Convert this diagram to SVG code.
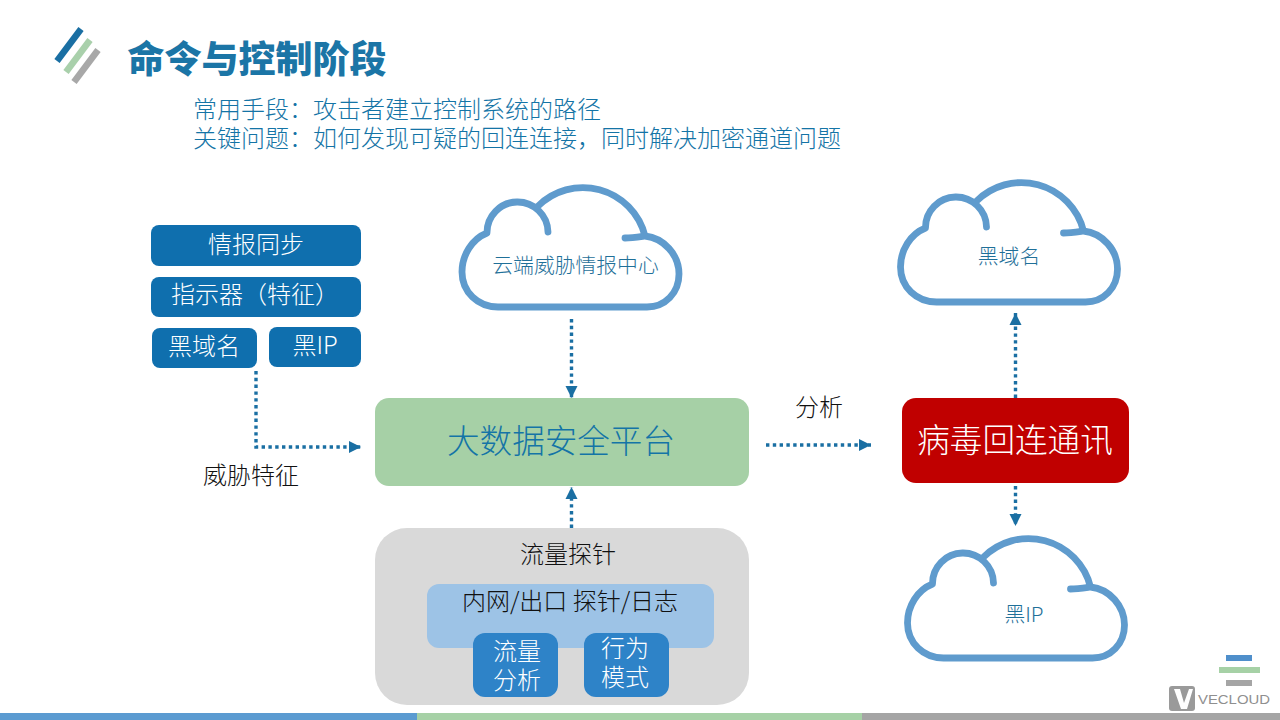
<svg xmlns="http://www.w3.org/2000/svg" width="1280" height="720" viewBox="0 0 1280 720">
<style>
text{font-family:"Noto Sans CJK SC","Liberation Sans",sans-serif;text-anchor:middle;font-weight:300}
.cloud{fill:none;stroke:#5f9bcd;stroke-width:6.8;stroke-linecap:round;stroke-linejoin:round}
.flow{fill:none;stroke:#1a6fa3;stroke-width:3.4;stroke-dasharray:3.4 3.4;marker-end:url(#arrow)}
.blue{fill:#0f6fae}
.wt{fill:#fff;font-size:24px}
.dk{fill:#111;font-size:24px}
.cl{fill:#1f7099;font-size:20.8px}
.sub{fill:#1474a6;font-size:24px;text-anchor:start}
</style>
<defs>
<marker id="arrow" markerUnits="userSpaceOnUse" markerWidth="14" markerHeight="14" refX="12" refY="7" orient="auto"><path d="M0 1L12 7L0 13Z" fill="#1a6fa3"/></marker>
<path id="cloudshape" d="M548 232A30.5 30.5 0 0 0 487 233C472 239 462 255 462 272C462 292 478 307 498 307H647C665 307 679 293 679 274C679 255 664 238 645 236A64 64 0 0 0 537 207M645 236C638 237 632 238 625 238"/>
</defs>
<rect width="1280" height="720" fill="#fff"/>
<g id="header-mark">
<path d="M57 61L81 29" stroke="#1a6fa3" stroke-width="6.5"/>
<path d="M66 72L90 40" stroke="#a9d0ab" stroke-width="6.5"/>
<path d="M74 82L98 50" stroke="#a8a8a8" stroke-width="6.5"/>
</g>
<text x="257" y="73" font-size="37" style="font-weight:900" fill="#1b75a6">命令与控制阶段</text>
<text class="sub" x="193" y="118">常用手段：攻击者建立控制系统的路径</text>
<text class="sub" x="193" y="147">关键问题：如何发现可疑的回连连接，同时解决加密通道问题</text>

<g id="connectors">
<path class="flow" d="M256 371V447H361"/>
<path class="flow" d="M571.5 319V398"/>
<path class="flow" d="M571.5 528V487"/>
<path class="flow" d="M766 445H871"/>
<path class="flow" d="M1015.5 398V313"/>
<path class="flow" d="M1015.5 486V526"/>
</g>

<g id="intel-sync"><rect class="blue" x="151" y="225" width="210" height="41" rx="8"/><text class="wt" x="256" y="253">情报同步</text></g>
<g id="indicator"><rect class="blue" x="151" y="277" width="210" height="40" rx="8"/><text class="wt" x="255" y="303">指示器（特征）</text></g>
<g id="black-domain"><rect class="blue" x="152" y="328" width="105" height="40" rx="8"/><text class="wt" x="204" y="355">黑域名</text></g>
<g id="black-ip"><rect class="blue" x="269" y="327" width="92" height="40" rx="8"/><text class="wt" x="315" y="354">黑IP</text></g>

<g id="cloud-center"><use href="#cloudshape" class="cloud"/><text class="cl" x="575.5" y="273">云端威胁情报中心</text></g>
<g id="cloud-domain"><use href="#cloudshape" class="cloud" transform="translate(438.5 -5)"/><text class="cl" x="1009" y="264">黑域名</text></g>
<g id="cloud-ip"><use href="#cloudshape" class="cloud" transform="translate(445.5 351)"/><text class="cl" x="1024" y="622">黑IP</text></g>

<g id="platform"><rect x="375" y="398" width="374" height="88" rx="14" fill="#a6d0a6"/><text x="561" y="453" font-size="32.6" fill="#1474a6">大数据安全平台</text></g>
<g id="virus"><rect x="902" y="398" width="227" height="85" rx="14" fill="#c00000"/><text x="1015" y="452" font-size="32.6" fill="#fff">病毒回连通讯</text></g>

<text class="dk" x="819" y="416">分析</text>
<text class="dk" x="251" y="484">威胁特征</text>

<g id="probe"><rect x="375" y="528" width="374" height="177" rx="32" fill="#d9d9d9"/><text class="dk" x="568" y="563">流量探针</text></g>
<g id="probe-log"><rect x="427" y="584" width="287" height="64" rx="12" fill="#9dc3e6"/><text class="dk" x="570" y="610">内网/出口 探针/日志</text></g>
<g id="flow-analysis"><rect x="473" y="633" width="85" height="64" rx="12" fill="#2e83c8"/><text class="wt" x="517" y="660">流量</text><text class="wt" x="517" y="689">分析</text></g>
<g id="behavior"><rect x="584" y="633" width="85" height="64" rx="12" fill="#2e83c8"/><text class="wt" x="625" y="657">行为</text><text class="wt" x="625" y="686">模式</text></g>

<g id="footer">
<rect x="0" y="713" width="417" height="7" fill="#5b9bd1"/>
<rect x="417" y="713" width="445" height="7" fill="#a6d1a6"/>
<rect x="862" y="713" width="418" height="7" fill="#a5a5a5"/>
</g>
<g id="logo">
<rect x="1226" y="655" width="26" height="6" fill="#4f8fcb"/>
<rect x="1219" y="667" width="41" height="6" fill="#a6d1a6"/>
<rect x="1226" y="680" width="26" height="6" fill="#a5a5a5"/>
<rect x="1169" y="686" width="26" height="25" rx="3" fill="#9a9a9a"/>
<path d="M1174 689H1180L1184 703L1189 689H1193L1187 709H1181Z" fill="#fff"/>
<text x="1234" y="703.5" font-size="12" fill="#8f8f8f" style="font-family:'Liberation Sans',sans-serif" textLength="72" lengthAdjust="spacingAndGlyphs">VECLOUD</text>
</g>
</svg>
